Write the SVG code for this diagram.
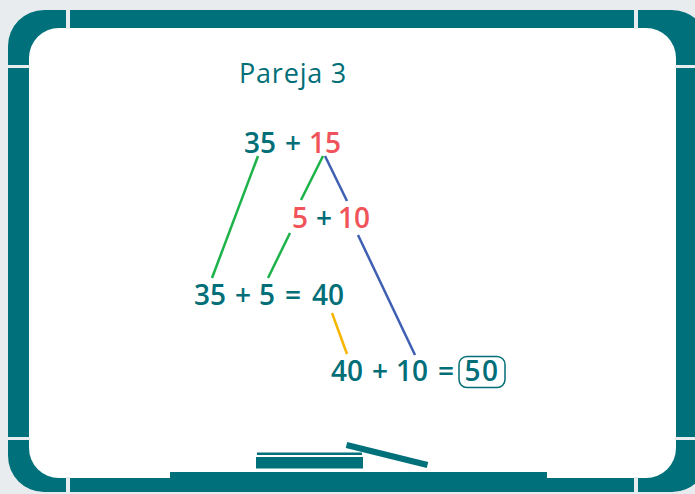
<svg xmlns="http://www.w3.org/2000/svg" width="695" height="494" viewBox="0 0 695 494">
<style>
.frame{fill:#00717b}
.gap{fill:#e9ecef}
.t{font-family:"Open Sans","Noto Sans","Liberation Sans",sans-serif;fill:#016e78}
.m{font-size:28px;font-weight:600}
.r{fill:#f0545a}
.ln{stroke-width:2.5;fill:none;stroke-linecap:butt}
</style>
<rect width="695" height="494" fill="#e9ecef"/>
<g id="board">
<rect class="frame" x="8" y="10" width="700" height="482" rx="36"/>
<rect x="29" y="28" width="647" height="450" rx="30" fill="#ffffff"/>
<rect class="frame" x="170" y="472" width="377" height="8"/>
<rect class="gap" x="66" y="8" width="4" height="21"/>
<rect class="gap" x="634" y="8" width="4" height="21"/>
<rect class="gap" x="66" y="477" width="4" height="18"/>
<rect class="gap" x="634" y="477" width="4" height="18"/>
<rect class="gap" x="6" y="65" width="24" height="3"/>
<rect class="gap" x="675" y="65" width="22" height="3"/>
<rect class="gap" x="6" y="437" width="24" height="3"/>
<rect class="gap" x="675" y="437" width="22" height="3"/>
</g>
<g id="markers">
<rect class="frame" x="257" y="452.5" width="105" height="2.5"/>
<rect class="frame" x="256" y="457" width="107" height="11.5"/>
<line x1="346.5" y1="445" x2="427.5" y2="465" stroke="#00717b" stroke-width="6"/>
</g>
<g id="title"><text class="t" x="239" y="83" font-size="27" letter-spacing="0.8">Pareja 3</text></g>
<g id="connectors">
<line class="ln" x1="258" y1="156" x2="212" y2="278" stroke="#1db34a"/>
<line class="ln" x1="323" y1="156" x2="301" y2="200" stroke="#1db34a"/>
<line class="ln" x1="290" y1="233" x2="268" y2="278" stroke="#1db34a"/>
<line class="ln" x1="325" y1="156" x2="347" y2="201" stroke="#3e5fb2"/>
<line class="ln" x1="358" y1="235" x2="415" y2="355" stroke="#3e5fb2"/>
<line class="ln" x1="332" y1="313" x2="347" y2="354" stroke="#f7b500"/>
</g>
<g id="n1"><text class="t m" y="153"><tspan x="244">35</tspan><tspan x="285">+</tspan><tspan class="r" x="309">15</tspan></text></g>
<g id="n2"><text class="t m" y="228"><tspan class="r" x="292">5</tspan><tspan x="316">+</tspan><tspan class="r" x="338">10</tspan></text></g>
<g id="n3"><text class="t m" y="305"><tspan x="194">35</tspan><tspan x="235">+</tspan><tspan x="259">5</tspan><tspan x="285">=</tspan><tspan x="312">40</tspan></text></g>
<g id="n4"><text class="t m" y="381"><tspan x="331">40</tspan><tspan x="372">+</tspan><tspan x="396">10</tspan><tspan x="438">=</tspan></text>
<text class="t m" x="482" y="381" text-anchor="middle" letter-spacing="1.5">50</text>
<rect x="459" y="356.5" width="46" height="31" rx="8" fill="none" stroke="#016e78" stroke-width="1.5"/></g>
</svg>
